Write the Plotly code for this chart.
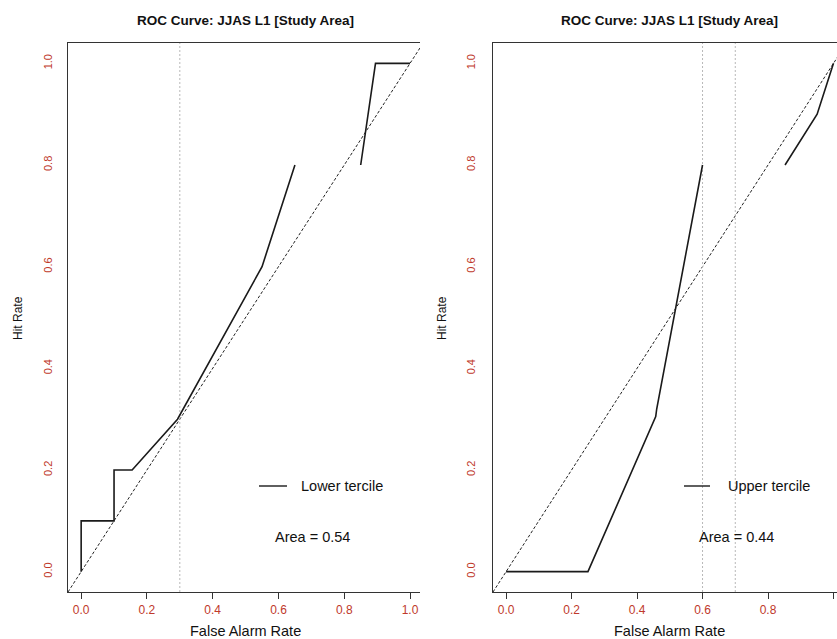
import plotly.graph_objects as go
from plotly.subplots import make_subplots

W, H = 837, 639

# ---- data ----
lower_far = [0.0, 0.0, 0.10, 0.10, 0.155, 0.293, 0.55, 0.65, None, 0.85, 0.895, 1.0]
lower_hr  = [0.0, 0.10, 0.10, 0.20, 0.20, 0.30, 0.60, 0.80, None, 0.80, 1.0, 1.0]
upper_far = [0.0, 0.25, 0.457, 0.46, 0.60, None, 0.852, 0.95, 1.0]
upper_hr  = [0.0, 0.0, 0.305, 0.32, 0.80, None, 0.80, 0.90, 1.0]
diag = [-0.04, 1.04]
lower_vlines = [0.3]
upper_vlines = [0.6, 0.7]
x_ticks = [0.0, 0.2, 0.4, 0.6, 0.8, 1.0]
y_ticks = [0.0, 0.2, 0.4, 0.6, 0.8, 1.0]
titles = ["ROC Curve: JJAS L1 [Study Area]", "ROC Curve: JJAS L1 [Study Area]"]
legend_names = ["Lower tercile", "Upper tercile"]
areas = [0.54, 0.44]

FONT = "Liberation Sans, Arial, sans-serif"
TICKCOL = "#c0392b"

fig = make_subplots(rows=1, cols=2)

panels = [(lower_far, lower_hr, lower_vlines), (upper_far, upper_hr, upper_vlines)]
for i, (fx, hy, vl) in enumerate(panels, start=1):
    fig.add_trace(go.Scatter(x=diag, y=diag, mode="lines",
                             line=dict(color="#222", width=1, dash="3px,2px"),
                             showlegend=False, hoverinfo="skip"), row=1, col=i)
    for v in vl:
        fig.add_trace(go.Scatter(x=[v, v], y=diag, mode="lines",
                                 line=dict(color="#b8b8b8", width=1, dash="2px,2px"),
                                 showlegend=False, hoverinfo="skip"), row=1, col=i)
    fig.add_trace(go.Scatter(x=fx, y=hy, mode="lines", connectgaps=False,
                             line=dict(color="#1a1a1a", width=1.6),
                             showlegend=False), row=1, col=i)

def px_x(p):
    return p / W

def px_y(p):
    return 1 - p / H

ydom = [px_y(592), px_y(43)]
axis_common = dict(showgrid=False, zeroline=False, showline=True,
                   linecolor="#333", linewidth=1.4)

fig.update_layout(
    xaxis=dict(domain=[px_x(68), px_x(420)], range=[-0.04, 1.0303],
               tickvals=x_ticks, tickformat=".1f", ticks="outside", ticklen=6,
               tickcolor="#333", tickfont=dict(size=12, color=TICKCOL, family=FONT),
               mirror=True, **axis_common),
    xaxis2=dict(domain=[px_x(493), 1.0], range=[-0.04, 1.0107],
                tickvals=x_ticks, tickformat=".1f", ticks="outside", ticklen=6,
                tickcolor="#333", tickfont=dict(size=12, color=TICKCOL, family=FONT),
                mirror=True, **axis_common),
    yaxis=dict(domain=ydom, range=[-0.04, 1.04], tickvals=y_ticks, tickformat=".1f",
               ticks="outside", ticklen=10, tickcolor="rgba(0,0,0,0)", tickangle=-90,
               tickfont=dict(size=11, color=TICKCOL, family=FONT), **axis_common),
    yaxis2=dict(domain=ydom, range=[-0.04, 1.04], tickvals=y_ticks, tickformat=".1f",
                ticks="outside", ticklen=12, tickcolor="rgba(0,0,0,0)", tickangle=-90,
                tickfont=dict(size=11, color=TICKCOL, family=FONT), **axis_common),
    width=W, height=H,
    margin=dict(l=0, r=0, t=0, b=0),
    paper_bgcolor="white", plot_bgcolor="white",
    font=dict(family=FONT, color="black"),
    showlegend=False,
)

centers = [245, 669]
hit_x = [18, 442]
leg_line = [(259, 287), (684, 710)]
leg_text_x = [299, 726]
area_x = [312, 736]
for k in range(2):
    fig.add_annotation(text="<b>" + titles[k] + "</b>", x=px_x(centers[k]), y=px_y(20),
                       xref="paper", yref="paper", showarrow=False,
                       xanchor="center", yanchor="middle",
                       font=dict(size=13.5, family=FONT, color="#111"))
    fig.add_annotation(text="False Alarm Rate", x=px_x(centers[k]), y=px_y(631),
                       xref="paper", yref="paper", showarrow=False,
                       xanchor="center", yanchor="middle",
                       font=dict(size=14.5, family=FONT, color="#111"))
    fig.add_annotation(text="Hit Rate", x=px_x(hit_x[k]), y=px_y(318),
                       xref="paper", yref="paper", showarrow=False, textangle=-90,
                       xanchor="center", yanchor="middle",
                       font=dict(size=12, family=FONT, color="#111"))
    x0, x1 = leg_line[k]
    fig.add_shape(type="line", xref="paper", yref="paper",
                  x0=px_x(x0), x1=px_x(x1), y0=px_y(486), y1=px_y(486),
                  line=dict(color="#1a1a1a", width=1.4))
    fig.add_annotation(text=legend_names[k], x=px_x(leg_text_x[k]), y=px_y(486),
                       xref="paper", yref="paper", showarrow=False,
                       xanchor="left", yanchor="middle",
                       font=dict(size=14.5, family=FONT, color="#111"))
    fig.add_annotation(text=f"Area = {areas[k]:.2f}", x=px_x(area_x[k]), y=px_y(537),
                       xref="paper", yref="paper", showarrow=False,
                       xanchor="center", yanchor="middle",
                       font=dict(size=14.5, family=FONT, color="#111"))

fig.write_html("out.html")
